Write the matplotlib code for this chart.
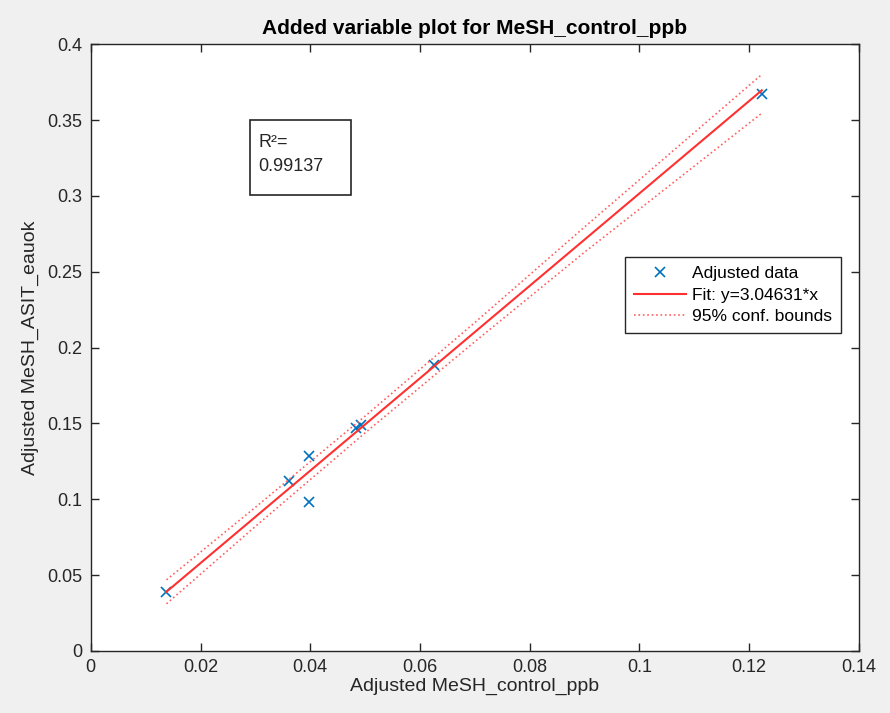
import numpy as np
import matplotlib.pyplot as plt
from matplotlib.patches import Rectangle

plt.rcParams['font.family'] = ['Liberation Sans', 'DejaVu Sans']

# Adjusted data points
x_adj = [0.0138, 0.0362, 0.0397, 0.0397, 0.0484, 0.0493, 0.0625, 0.1223]
y_adj = [0.0389, 0.1120, 0.1285, 0.0982, 0.1470, 0.1490, 0.1885, 0.3675]

# Fit line
fit_slope = 3.04631
fit_offset = -0.0030
fit_x = [0.0138, 0.1223]

# 95% confidence bounds (read at a few x positions)
bound_x = [0.0138, 0.03, 0.05, 0.07, 0.09, 0.1223]
bound_upper = [0.0469, 0.0947, 0.1548, 0.2165, 0.2795, 0.3800]
bound_lower = [0.0311, 0.0821, 0.1438, 0.2039, 0.2629, 0.3545]

r2_value = 0.99137

xticks = [0, 0.02, 0.04, 0.06, 0.08, 0.1, 0.12, 0.14]
xtick_labels = ['0', '0.02', '0.04', '0.06', '0.08', '0.1', '0.12', '0.14']
yticks = [0, 0.05, 0.1, 0.15, 0.2, 0.25, 0.3, 0.35, 0.4]
ytick_labels = ['0', '0.05', '0.1', '0.15', '0.2', '0.25', '0.3', '0.35', '0.4']

fig = plt.figure(figsize=(8.9, 7.13), dpi=100, facecolor='#f0f0f0')
ax = fig.add_axes([0.102, 0.087, 0.863, 0.851])
ax.set_facecolor('white')

ax.plot(x_adj, y_adj, 'x', color='#0072BD', markersize=7, markeredgewidth=1.2,
        label='Adjusted data')
fit_y = [fit_slope * v + fit_offset for v in fit_x]
ax.plot(fit_x, fit_y, '-', color='#ff3030', linewidth=1.5, label='Fit: y=3.04631*x')
ax.plot(bound_x, bound_upper, ':', color='#ff6060', linewidth=1.2,
        label='95% conf. bounds')
ax.plot(bound_x, bound_lower, ':', color='#ff6060', linewidth=1.2)

ax.set_xlim(0, 0.14)
ax.set_ylim(0, 0.4)
ax.set_xticks(xticks)
ax.set_xticklabels(xtick_labels)
ax.set_yticks(yticks)
ax.set_yticklabels(ytick_labels)
ax.tick_params(direction='in', top=True, right=True, length=6, width=1,
               colors='#262626', labelsize=13, pad=6)
for s in ax.spines.values():
    s.set_color('#262626')
    s.set_linewidth(1)

ax.set_title('Added variable plot for MeSH_control_ppb', fontsize=15,
             fontweight='bold', color='black', pad=7)
ax.set_xlabel('Adjusted MeSH_control_ppb', fontsize=14, color='#262626', labelpad=1)
ax.set_ylabel('Adjusted MeSH_ASIT_eauok', fontsize=14, color='#262626', labelpad=6)

leg = ax.legend(loc='upper left', bbox_to_anchor=(0.702, 0.640),
                bbox_transform=fig.transFigure, borderaxespad=0, fancybox=False,
                edgecolor='#262626', framealpha=1, fontsize=12.5,
                handlelength=3.0, handletextpad=0.3, labelspacing=0.35,
                borderpad=0.55)
leg.get_frame().set_linewidth(1)

# R^2 annotation box
fig.patches.append(Rectangle((0.281, 0.727), 0.113, 0.105, transform=fig.transFigure,
                             fill=False, edgecolor='#262626', linewidth=1.2))
fig.text(0.29, 0.812, 'R²=\n' + str(r2_value), fontsize=13, va='top', ha='left',
         color='#262626', linespacing=1.5)

fig.savefig('out.png', dpi=100, facecolor=fig.get_facecolor())
